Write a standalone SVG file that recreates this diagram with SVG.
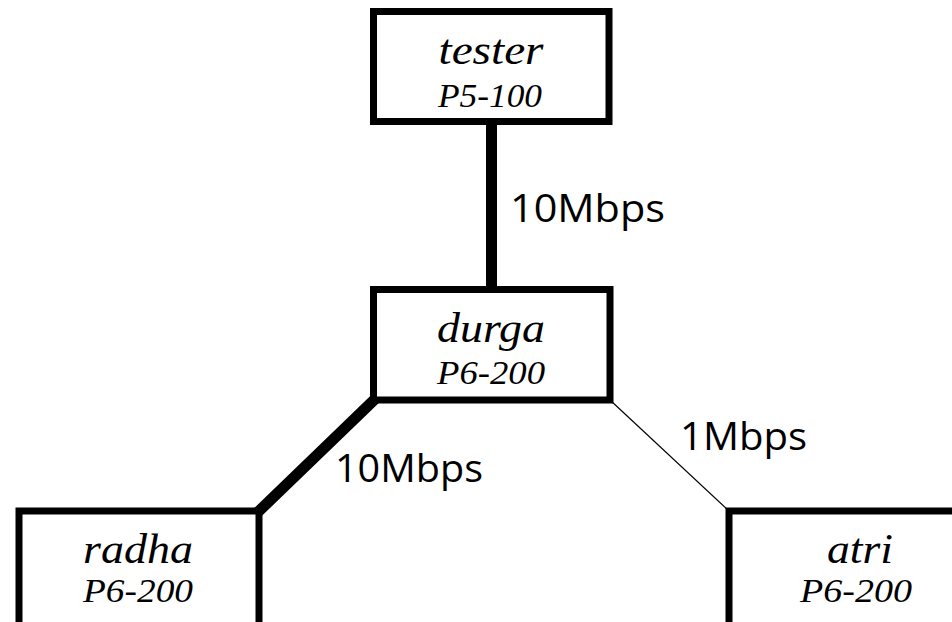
<svg xmlns="http://www.w3.org/2000/svg" width="952" height="622" viewBox="0 0 952 622">
<style>
.box{fill:#fff;stroke:#000;stroke-width:7}
.name{font-family:"Liberation Serif","Times New Roman",serif;font-style:italic;font-size:42px;text-anchor:middle;fill:#000}
.cpu{font-family:"Liberation Serif","Times New Roman",serif;font-style:italic;font-size:34px;text-anchor:middle;fill:#000}
.lbl{font-family:"Open Sans","DejaVu Sans",sans-serif;font-size:38px;fill:#000}
</style>
<rect width="952" height="622" fill="#fff"/>
<g id="connectors">
<line x1="491.5" y1="122" x2="491.5" y2="290" stroke="#000" stroke-width="11"/>
<line x1="374" y1="400" x2="259" y2="511" stroke="#000" stroke-width="11" stroke-linecap="square"/>
<line x1="610" y1="400" x2="729" y2="511" stroke="#000" stroke-width="1.2"/>
<text class="lbl" x="510" y="222" textLength="155" lengthAdjust="spacingAndGlyphs">10Mbps</text>
<text class="lbl" x="335" y="482" textLength="148" lengthAdjust="spacingAndGlyphs">10Mbps</text>
<text class="lbl" x="680" y="450" textLength="127" lengthAdjust="spacingAndGlyphs">1Mbps</text>
</g>
<g id="tester">
<rect class="box" x="373.5" y="11.5" width="235.5" height="110"/>
<text class="name" x="491" y="64" textLength="105" lengthAdjust="spacingAndGlyphs">tester</text>
<text class="cpu" x="490" y="107" textLength="104" lengthAdjust="spacingAndGlyphs">P5-100</text>
</g>
<g id="durga">
<rect class="box" x="373.5" y="289.5" width="236.5" height="110.5"/>
<text class="name" x="491" y="342" textLength="108" lengthAdjust="spacingAndGlyphs">durga</text>
<text class="cpu" x="491" y="384" textLength="108" lengthAdjust="spacingAndGlyphs">P6-200</text>
</g>
<g id="radha">
<rect class="box" x="19" y="511" width="240" height="130"/>
<text class="name" x="138" y="563" textLength="110" lengthAdjust="spacingAndGlyphs">radha</text>
<text class="cpu" x="138" y="602" textLength="110" lengthAdjust="spacingAndGlyphs">P6-200</text>
</g>
<g id="atri">
<rect class="box" x="729" y="511" width="240" height="130"/>
<text class="name" x="860" y="563" textLength="66" lengthAdjust="spacingAndGlyphs">atri</text>
<text class="cpu" x="856" y="602" textLength="112" lengthAdjust="spacingAndGlyphs">P6-200</text>
</g>
</svg>
